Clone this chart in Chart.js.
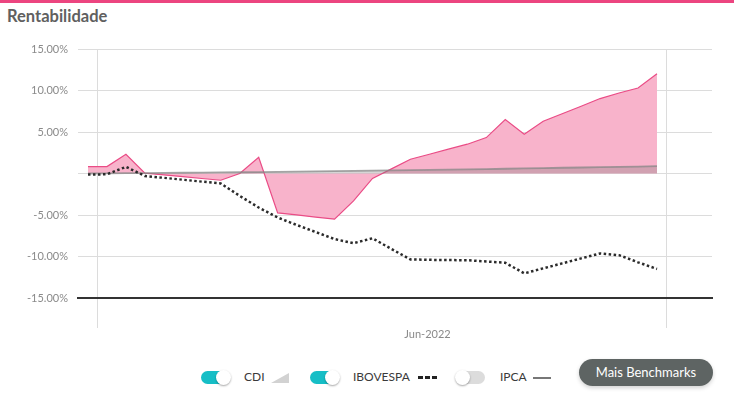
<!DOCTYPE html>
<html>
<head>
<meta charset="utf-8">
<script src="https://cdn.jsdelivr.net/npm/chart.js@4.4.1/dist/chart.umd.min.js"></script>
<style>
  html, body { margin: 0; padding: 0; background: #fff; }
  body { width: 734px; height: 397px; position: relative; overflow: hidden; font-family: Lato, "Open Sans", sans-serif; }
  .topbar { position: absolute; left: 0; top: 0; width: 734px; height: 3px; background: #ec4580; }
  .title { position: absolute; left: 7px; top: 6px; font-size: 16.5px; font-weight: bold; color: #606060; line-height: 20px; }
  .chart-box { position: absolute; left: 0; top: 30px; width: 734px; height: 313px; }
  .legend-item { position: absolute; top: 369px; height: 16px; line-height: 16px; font-size: 12px; color: #3a3a3a; }
  .toggle { position: absolute; top: 371px; width: 29px; height: 13px; border-radius: 7px; }
  .toggle.on { background: #16bec6; }
  .toggle.off { background: #dcdcdc; }
  .knob { position: absolute; top: -1px; width: 15px; height: 15px; border-radius: 50%; background: #fff; box-shadow: 0 1px 2px rgba(0,0,0,0.35); }
  .toggle.on .knob { right: -1px; }
  .toggle.off .knob { left: -1px; }
  .ico-area { position: absolute; left: 271px; top: 373px; width: 0; height: 0; border-left: 18px solid transparent; border-bottom: 10px solid #d2d2d2; }
  .ico-dots { position: absolute; left: 418px; top: 376px; width: 19px; height: 3px; background: repeating-linear-gradient(90deg, #222 0 5px, transparent 5px 7px); }
  .ico-line { position: absolute; left: 533px; top: 377px; width: 18px; height: 2px; background: #777; }
  .btn { position: absolute; left: 579px; top: 359px; width: 134px; height: 27px; border-radius: 14px; background: #5e6463; color: #fff; font-size: 13px; line-height: 27px; text-align: center; box-shadow: 0 2px 4px rgba(0,0,0,0.18); }
</style>
</head>
<body>
<div class="topbar"></div>
<div class="title">Rentabilidade</div>
<div class="chart-box"><canvas id="chart" width="734" height="313"></canvas></div>

<div class="toggle on" style="left:201px"><div class="knob"></div></div>
<div class="legend-item" style="left:244px">CDI</div>
<div class="ico-area"></div>
<div class="toggle on" style="left:310px"><div class="knob"></div></div>
<div class="legend-item" style="left:353px">IBOVESPA</div>
<div class="ico-dots"></div>
<div class="toggle off" style="left:456px"><div class="knob"></div></div>
<div class="legend-item" style="left:500px">IPCA</div>
<div class="ico-line"></div>
<div class="btn">Mais Benchmarks</div>

<script>
// rentabilidade acumulada (%), um valor por ponto
var carteira = [0.84, 0.84, 2.32, 0.05, -0.17, -0.38, -0.60, -0.81, 0.00, 1.96,
  -4.74, -4.99, -5.25, -5.50, -3.30, -0.60, 0.56, 1.72, 2.32, 2.93,
  3.53, 4.33, 6.50, 4.73, 6.29, 7.20, 8.10, 9.03, 9.70, 10.30, 12.03];
var cdi = [0.00, 0.02, 0.04, 0.05, 0.07, 0.09, 0.11, 0.13, 0.15, 0.17,
  0.19, 0.22, 0.25, 0.28, 0.31, 0.34, 0.37, 0.40, 0.43, 0.46,
  0.49, 0.53, 0.57, 0.61, 0.65, 0.69, 0.72, 0.76, 0.80, 0.84, 0.88];
var ibovespa = [-0.12, -0.10, 0.80, -0.30, -0.52, -0.75, -0.98, -1.20, -2.70, -4.10,
  -5.30, -6.20, -7.05, -7.90, -8.40, -7.80, -9.10, -10.35, -10.40, -10.43,
  -10.45, -10.60, -10.75, -12.03, -11.43, -10.83, -10.23, -9.63, -9.84, -10.70, -11.50];

var xTickPositions = [0.5, 17.9, 30.5];
var xTickLabels = ['', 'Jun-2022', ''];

function toPoints(values) {
  return values.map(function (v, i) { return { x: i, y: v }; });
}

var chart = new Chart(document.getElementById('chart'), {
  type: 'line',
  data: {
    datasets: [
      {
        label: 'IBOVESPA',
        data: toPoints(ibovespa),
        borderColor: '#2b2b2b',
        borderWidth: 2.5,
        borderDash: [2.5, 2.5],
        fill: false,
        pointRadius: 0,
        order: 0
      },
      {
        label: 'CDI',
        data: toPoints(cdi),
        borderColor: 'rgba(135,135,135,0.75)',
        backgroundColor: 'rgba(120,120,120,0.3)',
        borderWidth: 1.8,
        fill: 'origin',
        pointRadius: 0,
        order: 1
      },
      {
        label: 'Carteira',
        data: toPoints(carteira),
        borderColor: '#ea4c86',
        backgroundColor: '#f8b3cb',
        borderWidth: 1.2,
        fill: 'origin',
        pointRadius: 0,
        order: 2
      }
    ]
  },
  options: {
    responsive: false,
    animation: false,
    layout: { padding: { left: 0, right: 22, top: 19, bottom: 0 } },
    plugins: { legend: { display: false }, tooltip: { enabled: false } },
    scales: {
      x: {
        type: 'linear',
        min: -0.527,
        max: 32.9,
        afterBuildTicks: function (scale) {
          scale.ticks = xTickPositions.map(function (p) { return { value: p }; });
        },
        afterFit: function (scale) { scale.height = 45; },
        grid: {
          color: function (ctx) {
            return ctx.tick && xTickLabels[xTickPositions.indexOf(ctx.tick.value)] ? 'rgba(0,0,0,0)' : '#dcdcdc';
          },
          tickLength: 30
        },
        border: { color: '#333', width: 2 },
        ticks: {
          autoSkip: false,
          maxRotation: 0,
          padding: 0,
          color: '#8a8a8a',
          font: { family: 'Lato', size: 11 },
          callback: function (value) {
            var i = xTickPositions.indexOf(value);
            return i >= 0 ? xTickLabels[i] : '';
          }
        }
      },
      y: {
        min: -15,
        max: 15,
        afterFit: function (scale) { scale.width = 78; },
        grid: { color: '#dcdcdc', drawTicks: false },
        border: { display: false },
        ticks: {
          stepSize: 5,
          padding: 10,
          color: '#8a8a8a',
          font: { family: 'Lato', size: 11 },
          callback: function (value) {
            return value === 0 ? '' : value.toFixed(2) + '%';
          }
        }
      }
    }
  }
});
</script>
</body>
</html>
